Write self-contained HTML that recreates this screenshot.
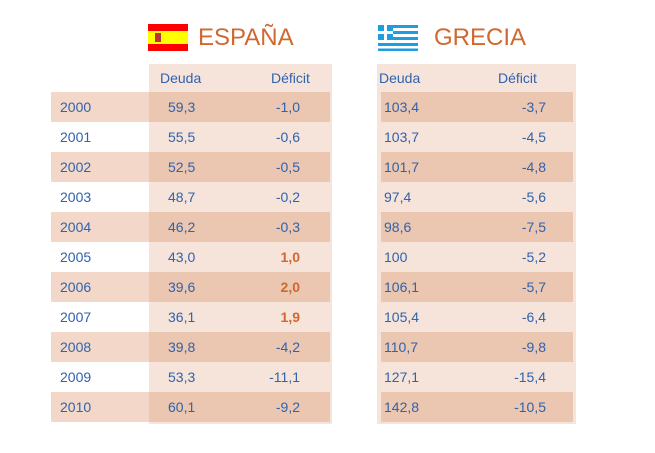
<!DOCTYPE html>
<html><head><meta charset="utf-8"><style>
body{margin:0;width:655px;height:453px;background:#fff;position:relative;font-family:"Liberation Sans",sans-serif;overflow:hidden}
.a{position:absolute}
.t{position:absolute;font-size:14px;color:#2e63ae;line-height:16px}
.h{position:absolute;font-size:24px;color:#d0682f;line-height:26px}
.b{font-weight:bold;color:#d0682f}
</style></head><body>
<div class="a" style="left:149px;top:64px;width:183px;height:360px;background:#f6e4da"></div>
<div class="a" style="left:377px;top:64px;width:199px;height:360px;background:#f6e4da"></div>
<div id="rows"></div>
<div class="a" style="left:148px;top:24px;width:40px;height:27px;background:#f00"></div>
<div class="a" style="left:148px;top:31px;width:40px;height:13px;background:#ff0"></div>
<div class="a" style="left:155px;top:33px;width:6px;height:9px;background:#b33"></div>
<svg class="a" style="left:378px;top:25px" width="40" height="26" viewBox="0 0 40 26">
<rect width="40" height="26" fill="#fff"/>
<g fill="#1e9ee0"><rect y="0" width="40" height="3"/><rect y="6" width="40" height="3"/><rect y="12" width="40" height="3"/><rect y="18" width="40" height="3"/><rect y="23.5" width="40" height="2.5"/>
<rect width="15" height="15"/></g>
<rect x="6" y="0" width="3" height="15" fill="#fff"/><rect x="0" y="6" width="15" height="3" fill="#fff"/>
</svg>
<div class="h" style="left:198px;top:25px">ESPAÑA</div>
<div class="h" style="left:434px;top:25px">GRECIA</div>
<div class="t" style="left:160px;top:70px">Deuda</div>
<div class="t" style="left:271px;top:70px">Déficit</div>
<div class="t" style="left:379px;top:70px">Deuda</div>
<div class="t" style="left:498px;top:70px">Déficit</div>
<script>
var d=[["2000","59,3","-1,0","103,4","-3,7"],["2001","55,5","-0,6","103,7","-4,5"],["2002","52,5","-0,5","101,7","-4,8"],["2003","48,7","-0,2","97,4","-5,6"],["2004","46,2","-0,3","98,6","-7,5"],["2005","43,0","1,0","100","-5,2"],["2006","39,6","2,0","106,1","-5,7"],["2007","36,1","1,9","105,4","-6,4"],["2008","39,8","-4,2","110,7","-9,8"],["2009","53,3","-11,1","127,1","-15,4"],["2010","60,1","-9,2","142,8","-10,5"]];
var h="";
d.forEach(function(r,i){var y=92+i*30;
if(i%2==0){h+='<div class="a" style="left:51px;top:'+y+'px;width:98px;height:30px;background:#f3d8ca"></div>';
h+='<div class="a" style="left:149px;top:'+y+'px;width:181px;height:30px;background:#ebc6b0"></div>';
h+='<div class="a" style="left:381px;top:'+y+'px;width:192px;height:30px;background:#ebc6b0"></div>';}
var ty=y+7;var bold=(i>=5&&i<=7)?' b':'';
h+='<div class="t" style="left:60px;top:'+ty+'px">'+r[0]+'</div>';
h+='<div class="t" style="left:168px;top:'+ty+'px">'+r[1]+'</div>';
h+='<div class="t'+bold+'" style="right:'+(655-300)+'px;top:'+ty+'px">'+r[2]+'</div>';
h+='<div class="t" style="left:384px;top:'+ty+'px">'+r[3]+'</div>';
h+='<div class="t" style="right:'+(655-546)+'px;top:'+ty+'px">'+r[4]+'</div>';
});
document.getElementById("rows").innerHTML=h;
</script>
</body></html>
